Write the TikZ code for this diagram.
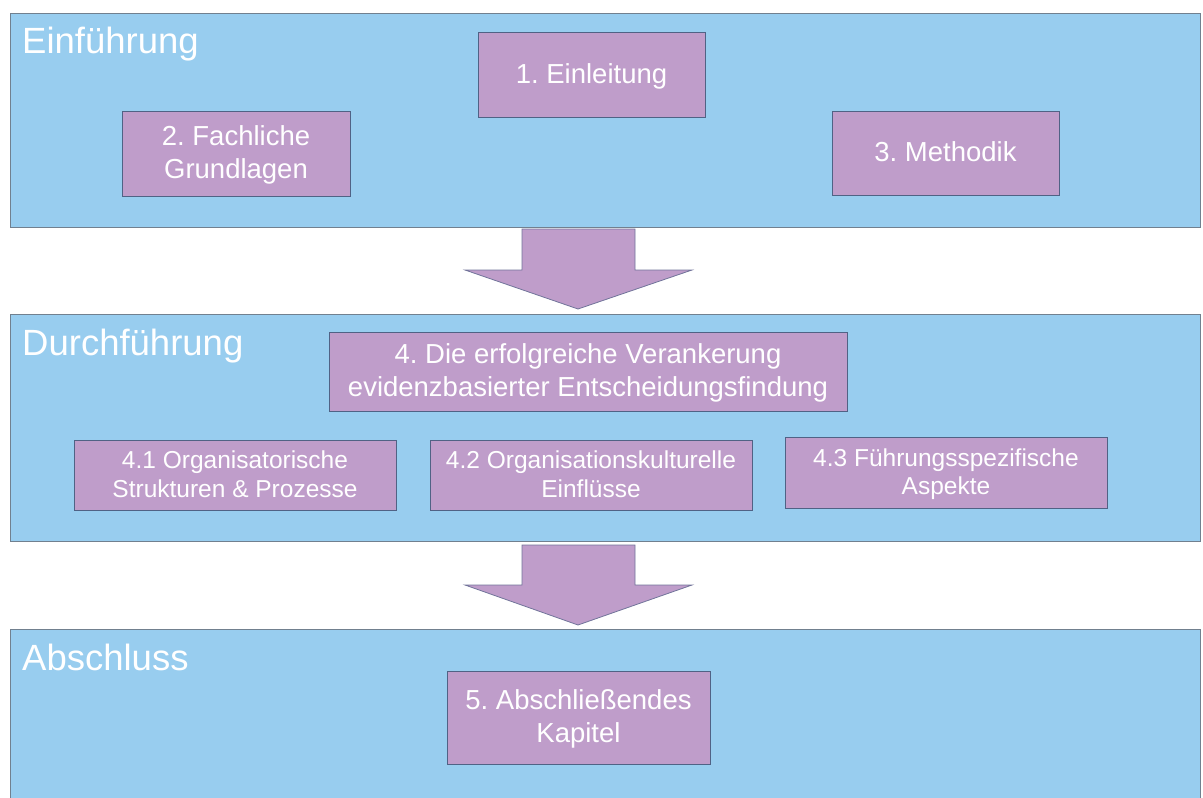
\documentclass[tikz,border=0pt]{standalone}
\usepackage{fontspec}
\setmainfont{Liberation Sans}
\frenchspacing
\definecolor{panelblue}{HTML}{98CDEF}
\definecolor{panelline}{HTML}{71808F}
\definecolor{boxlilac}{HTML}{BF9DCA}
\definecolor{boxline}{HTML}{506285}
% invisible strut giving first and last lines a fixed height and depth
\newcommand{\lstrut}{\rule[-.2em]{0pt}{1.05em}}
\begin{document}
\begin{tikzpicture}[x=1pt,y=-1pt,
  panel/.style={draw=panelline,line width=0.9pt,fill=panelblue},
  paneltitle/.style={anchor=base west,text=white,inner sep=0pt,font=\fontsize{36.5}{40}\selectfont},
  chapter/.style={draw=boxline,line width=0.9pt,fill=boxlilac,text=white,align=center,
    inner sep=0pt,font=\fontsize{27.5}{33}\selectfont},
  section/.style={chapter,font=\fontsize{24.5}{28.5}\selectfont},
  flowarrow/.style={draw=boxline!70!boxlilac,line width=0.8pt,fill=boxlilac}]
\useasboundingbox (0,0) rectangle (1203,798);
\begin{scope}
\clip (0,0) rectangle (1203,798);
% three phase panels
\draw[panel] (10,13) rectangle (1200,227);
\draw[panel] (10,314) rectangle (1200,541);
\draw[panel] (10,629) rectangle (1200,830);
\end{scope}
\node[paneltitle] (t1) at (22,53) {Einführung};
\node[paneltitle] (t2) at (22,355) {Durchführung};
\node[paneltitle] (t3) at (22,670) {Abschluss};
% introduction chapters
\node[chapter,minimum width=227pt,minimum height=85pt] (c1) at (591.5,74.5) {\lstrut 1. Einleitung\lstrut};
\node[chapter,minimum width=228pt,minimum height=85pt] (c2) at (236,153.5) {\lstrut 2. Fachliche\\Grundlagen\lstrut};
\node[chapter,minimum width=227pt,minimum height=84pt] (c3) at (945.5,153) {\lstrut 3. Methodik\lstrut};
% main part
\node[chapter,minimum width=518pt,minimum height=79pt] (c4) at (588,371.5) {\lstrut 4. Die erfolgreiche Verankerung\\evidenzbasierter Entscheidungsfindung\lstrut};
\node[section,minimum width=322pt,minimum height=70pt] (s41) at (235,475) {\lstrut 4.1 Organisatorische\\Strukturen \& Prozesse\lstrut};
\node[section,minimum width=322pt,minimum height=70pt] (s42) at (591,475) {\lstrut 4.2 Organisationskulturelle\\Einflüsse\lstrut};
\node[section,minimum width=322pt,minimum height=71pt] (s43) at (946,472.5) {\lstrut 4.3 Führungsspezifische\\Aspekte\lstrut};
% conclusion
\node[chapter,minimum width=263pt,minimum height=93pt] (c5) at (578.5,717.5) {\lstrut 5. Abschließendes\\Kapitel\lstrut};
% block arrows between the phases
\draw[flowarrow] (522,229) -- (635,229) -- (635,270) -- (692,270) -- (578,309)
  -- (465,270) -- (522,270) -- cycle;
\draw[flowarrow] (522,545) -- (635,545) -- (635,585) -- (692,585) -- (578,625)
  -- (465,585) -- (522,585) -- cycle;
\end{tikzpicture}
\end{document}
